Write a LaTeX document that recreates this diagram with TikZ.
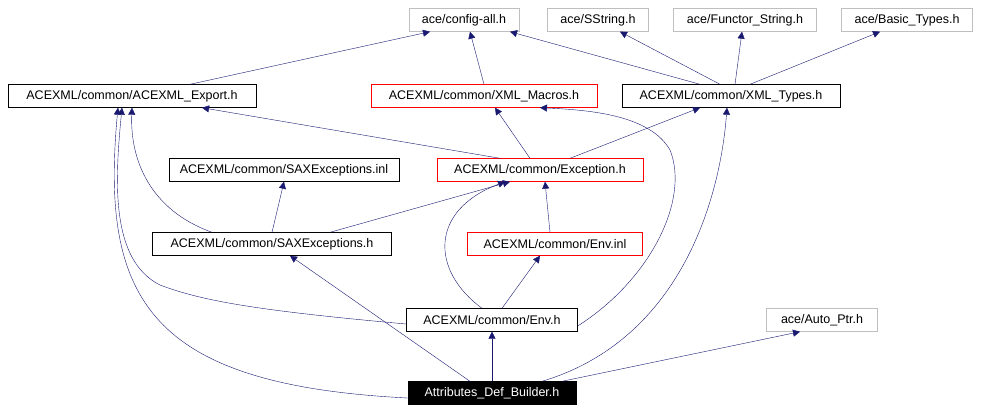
\documentclass[tikz,border=0pt]{standalone}
\usepackage{fontspec}
\setmainfont{Liberation Sans}
\usetikzlibrary{arrows.meta}
\definecolor{edgeblue}{RGB}{25,25,112}
\definecolor{extgray}{RGB}{191,191,191}

\begin{document}
\begin{tikzpicture}[
    x=1pt, y=-1pt,
    file/.style={rectangle, draw=black, minimum height=23pt, inner sep=0pt, font=\fontsize{12.5}{14}\selectfont},
    ext/.style={file, draw=extgray},
    bad/.style={file, draw=red},
    root/.style={file, fill=black, text=white},
    dep/.style={-{Triangle[length=7pt,width=7pt]}, edgeblue}
  ]
    \useasboundingbox (0,0) rectangle (981,413);

    % External headers
    \node[ext, minimum width=110pt] (config) at (464,20) {ace/config-all.h};
    \node[ext, minimum width=101pt] (sstring) at (598,20) {ace/SString.h};
    \node[ext, minimum width=143pt] (functor) at (745,20) {ace/Functor\_String.h};
    \node[ext, minimum width=131pt] (basic) at (907,20) {ace/Basic\_Types.h};

    % ACEXML headers
    \node[file, minimum width=248pt] (export) at (132,96) {ACEXML/common/ACEXML\_Export.h};
    \node[bad, minimum width=226pt] (macros) at (484,96) {ACEXML/common/XML\_Macros.h};
    \node[file, minimum width=218pt] (types) at (731,96) {ACEXML/common/XML\_Types.h};
    \node[file, minimum width=230pt] (saxinl) at (284,170) {ACEXML/common/SAXExceptions.inl};
    \node[bad, minimum width=206pt] (exception) at (540,170) {ACEXML/common/Exception.h};
    \node[file, minimum width=239pt] (saxh) at (272,244) {ACEXML/common/SAXExceptions.h};
    \node[bad, minimum width=175pt] (envinl) at (555,244) {ACEXML/common/Env.inl};
    \node[file, minimum width=171pt] (envh) at (492,320) {ACEXML/common/Env.h};
    \node[ext, minimum width=111pt] (autoptr) at (822,320) {ace/Auto\_Ptr.h};
    \node[root, minimum width=168pt] (builder) at (492,393) {Attributes\_Def\_Builder.h};

    % Includes
    \draw[dep] ([xshift=58pt]export.north) -- ([xshift=-34pt]config.south);
    \draw[dep] (macros.north) -- ([xshift=6pt]config.south);
    \draw[dep] ([xshift=-31pt]types.north) -- ([xshift=46pt]config.south);
    \draw[dep] ([xshift=-11pt]types.north) -- ([xshift=22pt]sstring.south);
    \draw[dep] ([xshift=4pt]types.north) -- ([xshift=-3pt]functor.south);
    \draw[dep] ([xshift=19pt]types.north) -- ([xshift=-27pt]basic.south);
    \draw[dep] ([xshift=-40pt]exception.north) -- ([xshift=70pt]export.south);
    \draw[dep] ([xshift=-10pt]exception.north) -- ([xshift=11pt]macros.south);
    \draw[dep] ([xshift=30pt]exception.north) -- ([xshift=-31pt]types.south);
    \draw[dep] (saxh.north) -- (saxinl.south);
    \draw[dep] ([xshift=58pt]saxh.north) -- ([xshift=-30pt]exception.south);
    \draw[dep] ([xshift=-60pt]saxh.north) .. controls (150,210) and (130,160) .. ([xshift=0pt]export.south);
    \draw[dep] ([xshift=-5pt]envinl.north) -- ([xshift=5pt]exception.south);
    \draw[dep] ([xshift=10pt]envh.north) -- ([xshift=-15pt]envinl.south);
    \draw[dep] ([xshift=-10pt]envh.north) .. controls (430,270) and (430,210) .. ([xshift=-35pt]exception.south);
    \draw[dep] ([yshift=-4pt]envh.west) .. controls (250,310) and (200,300) .. (160,285)
      .. controls (110,260) and (115,180) .. ([xshift=-10pt]export.south);
    \draw[dep] ([yshift=-6pt]envh.east) .. controls (650,280) and (690,200) .. (670,150)
      .. controls (650,115) and (590,110) .. ([xshift=56pt]macros.south);
    \draw[dep] (builder.north) -- (envh.south);
    \draw[dep] ([xshift=-22pt]builder.north) -- ([xshift=18pt]saxh.south);
    \draw[dep] ([yshift=-5pt]builder.west) .. controls (150,385) and (100,300) .. ([xshift=-14pt]export.south);
    \draw[dep] ([xshift=50pt]builder.north) .. controls (680,340) and (720,200) .. ([xshift=-4pt]types.south);
    \draw[dep] ([xshift=70pt]builder.north) -- ([xshift=-22pt]autoptr.south);
\end{tikzpicture}
\end{document}
